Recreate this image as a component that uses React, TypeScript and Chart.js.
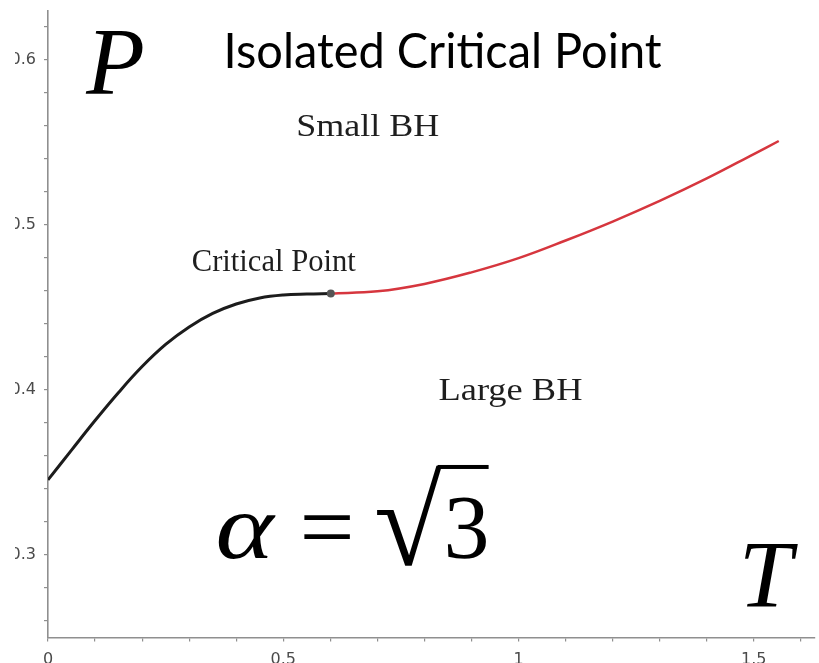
import React, { useEffect, useRef } from "react";
import { Chart, registerables } from "chart.js";

Chart.register(...registerables);

// Coexistence curve P(T): black branch up to the critical point, red branch beyond it
const T_BLACK = [0, 0.05, 0.1, 0.15, 0.2, 0.25, 0.3, 0.35, 0.4, 0.45, 0.5, 0.55, 0.601];
const P_BLACK = [0.3455, 0.3636, 0.3815, 0.3985, 0.4142, 0.4276, 0.4382, 0.4464, 0.4521, 0.4558, 0.4576, 0.4582, 0.4585];
const T_RED = [0.601, 0.7, 0.8, 0.9, 1.0, 1.1, 1.2, 1.3, 1.4, 1.5, 1.553];
const P_RED = [0.4585, 0.4598, 0.4643, 0.4713, 0.4799, 0.4906, 0.5021, 0.5146, 0.5282, 0.543, 0.5509];
const T_CRIT = [0.601];
const P_CRIT = [0.4585];

// Axis ticks (every tick gets a mark, only some get a label)
const T_TICKS = [0, 0.1, 0.2, 0.3, 0.4, 0.5, 0.6, 0.7, 0.8, 0.9, 1, 1.1, 1.2, 1.3, 1.4, 1.5, 1.6];
const T_LABELED = [0, 0.5, 1, 1.5];
const P_TICKS = [0.26, 0.28, 0.3, 0.32, 0.34, 0.36, 0.38, 0.4, 0.42, 0.44, 0.46, 0.48, 0.5, 0.52, 0.54, 0.56, 0.58, 0.6, 0.62];
const P_LABELED = [0.3, 0.4, 0.5, 0.6];

const T_RANGE = [0, 1.63];
const P_RANGE = [0.25, 0.63];

const SERIF = '"Liberation Serif", "Times New Roman", serif';
const AXIS_COLOR = "#8f8f8f";
const TICK_FONT = { family: '"DejaVu Sans", Verdana, sans-serif', size: 16 };

// Text placed on the plot, anchored (left, baseline) at data coordinates
const LABELS = [
  { text: "Isolated Critical Point", t: 0.3732, p: 0.5952, font: '48px Lato, "Open Sans", sans-serif', width: 438, color: "#000" },
  { text: "P", t: 0.0814, p: 0.5795, font: `italic 96px ${SERIF}`, color: "#000" },
  { text: "Small BH", t: 0.5275, p: 0.5539, font: `32px ${SERIF}`, width: 143, color: "#1e1e1e" },
  { text: "Critical Point", t: 0.3055, p: 0.4721, font: `31px ${SERIF}`, width: 164, color: "#1e1e1e" },
  { text: "Large BH", t: 0.8298, p: 0.3939, font: `32px ${SERIF}`, width: 144, color: "#1e1e1e" },
  { text: "T", t: 1.468, p: 0.2685, font: `italic 96px ${SERIF}`, color: "#000" },
];

// The formula α = √3, anchored at its left baseline
const FORMULA = { t: 0.3562, p: 0.2982 };

const pick = (list: number[], v: number) => list.find((x) => Math.abs(x - v) < 1e-9);

function drawText(
  ctx: CanvasRenderingContext2D,
  text: string,
  font: string,
  x: number,
  y: number,
  color: string,
  width?: number,
  sx?: number
) {
  ctx.save();
  ctx.font = font;
  ctx.fillStyle = color;
  ctx.textAlign = "left";
  ctx.textBaseline = "alphabetic";
  const w = ctx.measureText(text).width;
  ctx.translate(x, y);
  if (width) ctx.scale(width / w, 1);
  else if (sx) ctx.scale(sx, 1);
  ctx.fillText(text, 0, 0);
  ctx.restore();
}

const annotations = {
  id: "annotations",
  afterDraw(chart: any) {
    const { ctx, scales } = chart;
    const xs = scales.x;
    const ys = scales.y;
    for (const l of LABELS) {
      drawText(ctx, l.text, l.font, xs.getPixelForValue(l.t), ys.getPixelForValue(l.p), l.color, l.width);
    }
    const fx = xs.getPixelForValue(FORMULA.t);
    const fy = ys.getPixelForValue(FORMULA.p);
    drawText(ctx, "α", `italic 94px ${SERIF}`, fx, fy, "#000", undefined, 1.18);
    drawText(ctx, "=", `94px ${SERIF}`, fx + 84, fy, "#000", undefined, 1.04);
    drawText(ctx, "3", `92px ${SERIF}`, fx + 228, fy, "#000");
    // radical sign, stretched into its box, then the bar over the radicand
    ctx.save();
    ctx.font = `92px ${SERIF}`;
    ctx.fillStyle = "#000";
    ctx.textAlign = "left";
    ctx.textBaseline = "alphabetic";
    const m = ctx.measureText("√");
    const inkW = m.actualBoundingBoxLeft + m.actualBoundingBoxRight;
    const inkH = m.actualBoundingBoxAscent + m.actualBoundingBoxDescent;
    const bx = fx + 161, by = fy - 93, bw = 66, bh = 101;
    ctx.translate(bx, by);
    ctx.scale(bw / inkW, bh / inkH);
    ctx.fillText("√", m.actualBoundingBoxLeft, m.actualBoundingBoxAscent);
    ctx.restore();
    ctx.save();
    ctx.fillStyle = "#000";
    ctx.fillRect(fx + 222, fy - 93, 51, 4);
    ctx.restore();
  },
};

export default function App() {
  const ref = useRef<HTMLCanvasElement | null>(null);

  useEffect(() => {
    const canvas = ref.current;
    if (!canvas) return;
    const toPoints = (ts: number[], ps: number[]) => ts.map((t, i) => ({ x: t, y: ps[i] }));
    const chart = new Chart(canvas, {
      type: "line",
      data: {
        datasets: [
          {
            label: "critical point",
            data: toPoints(T_CRIT, P_CRIT),
            showLine: false,
            pointRadius: 4,
            pointBackgroundColor: "#555",
            pointBorderWidth: 0,
          },
          {
            label: "black branch",
            data: toPoints(T_BLACK, P_BLACK),
            borderColor: "#1c1c1c",
            borderWidth: 3,
            pointRadius: 0,
            tension: 0.4,
          },
          {
            label: "red branch",
            data: toPoints(T_RED, P_RED),
            borderColor: "#d6363e",
            borderWidth: 2.5,
            pointRadius: 0,
            tension: 0.4,
          },
        ],
      },
      options: {
        responsive: false,
        animation: false,
        devicePixelRatio: 1,
        layout: { padding: { top: 10.5, right: 0, bottom: 0, left: 0 } },
        plugins: { legend: { display: false }, tooltip: { enabled: false }, title: { display: false } },
        scales: {
          x: {
            type: "linear",
            min: T_RANGE[0],
            max: T_RANGE[1],
            afterBuildTicks: (s: any) => {
              s.ticks = T_TICKS.map((v) => ({ value: v }));
            },
            afterFit: (s: any) => {
              s.height = 25.5;
              s.paddingLeft = 0;
              s.paddingRight = 0;
            },
            grid: { drawOnChartArea: false, drawTicks: true, tickLength: 4, color: AXIS_COLOR, lineWidth: 1.2 },
            border: { display: true, color: AXIS_COLOR, width: 1.6 },
            ticks: {
              autoSkip: false,
              maxRotation: 0,
              padding: 9,
              color: "#4a4a4a",
              font: TICK_FONT,
              callback: (v: any) => {
                const l = pick(T_LABELED, Number(v));
                return l === undefined ? "" : String(l);
              },
            },
          },
          y: {
            type: "linear",
            min: P_RANGE[0],
            max: P_RANGE[1],
            afterBuildTicks: (s: any) => {
              s.ticks = P_TICKS.map((v) => ({ value: v }));
            },
            afterFit: (s: any) => {
              s.width = 48;
              s.paddingTop = 0;
              s.paddingBottom = 0;
            },
            grid: { drawOnChartArea: false, drawTicks: true, tickLength: 4, color: AXIS_COLOR, lineWidth: 1.2 },
            border: { display: true, color: AXIS_COLOR, width: 1.6 },
            ticks: {
              autoSkip: false,
              padding: 8,
              color: "#4a4a4a",
              font: TICK_FONT,
              callback: (v: any) => {
                const l = pick(P_LABELED, Number(v));
                return l === undefined ? "" : String(l);
              },
            },
          },
        },
      },
      plugins: [annotations],
    });
    return () => chart.destroy();
  }, []);

  return (
    <div style={{ position: "fixed", left: 0, top: 0, width: 819, height: 663, background: "#fff", overflow: "hidden" }}>
      <canvas
        ref={ref}
        width={819}
        height={663}
        style={{ display: "block", width: 819, height: 663, clipPath: "inset(0 0 0 15px)" }}
      />
    </div>
  );
}
